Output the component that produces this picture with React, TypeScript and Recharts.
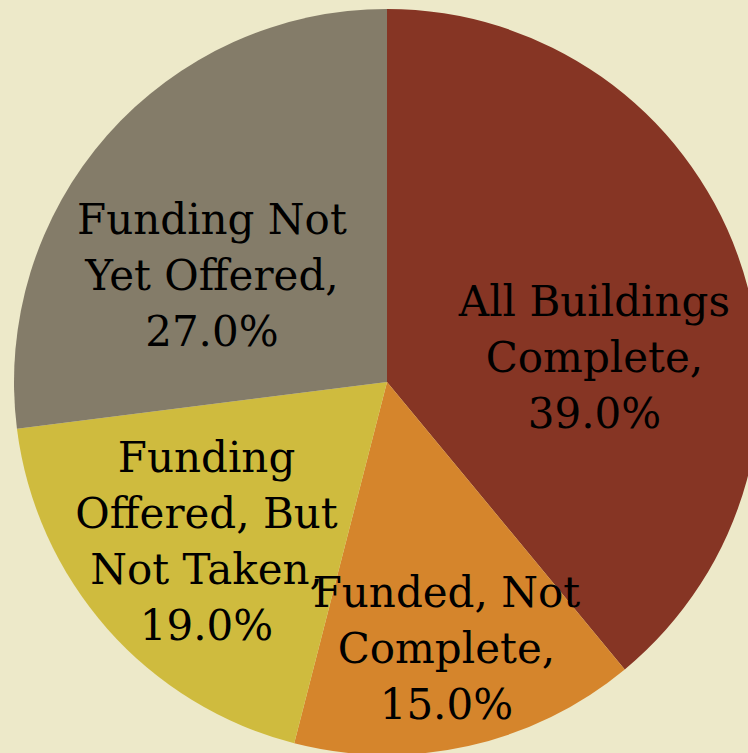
import React from 'react';
import { PieChart, Pie, Cell } from 'recharts';

// slice categories and shares (percent)
const categories = [
  'All Buildings Complete',
  'Funded, Not Complete',
  'Funding Offered, But Not Taken',
  'Funding Not Yet Offered',
];
const shares = [39.0, 15.0, 19.0, 27.0];
// how each label is wrapped onto lines
const labelLines = [
  ['All Buildings', 'Complete,', '39.0%'],
  ['Funded, Not', 'Complete,', '15.0%'],
  ['Funding', 'Offered, But', 'Not Taken,', '19.0%'],
  ['Funding Not', 'Yet Offered,', '27.0%'],
];

const colors = ['#863524', '#D5852C', '#CFBB3E', '#847C69'];
// label placement, relative to the slice mid angle
const labelPlace = [
  { r: 0.56, shift: -13 },
  { r: 0.73, shift: 0 },
  { r: 0.645, shift: 0 },
  { r: 0.55, shift: 10 },
];

const RAD = Math.PI / 180;
const LINE_H = 56;

const renderLabel = (props: any) => {
  const { cx, cy, midAngle, outerRadius, index } = props;
  const place = labelPlace[index];
  const a = (midAngle + place.shift) * RAD;
  const x = cx + outerRadius * place.r * Math.cos(a);
  const y = cy - outerRadius * place.r * Math.sin(a);
  const lines = labelLines[index];
  const top = y - ((lines.length - 1) * LINE_H) / 2;
  return (
    <text
      key={`lbl-${index}`}
      x={x}
      y={top}
      textAnchor="middle"
      dominantBaseline="central"
      fill="#000"
      style={{ fontFamily: '"DejaVu Serif", serif', fontSize: 42 }}
    >
      {lines.map((l, i) => (
        <tspan key={i} x={x} y={top + i * LINE_H}>
          {l}
        </tspan>
      ))}
    </text>
  );
};

export default function App() {
  const data = categories.map((name, i) => ({ name, value: shares[i] }));
  return (
    <div style={{ position: 'absolute', left: 0, top: 0, width: 748, height: 753, background: '#EDE9C9', overflow: 'hidden' }}>
      <PieChart width={748} height={753} margin={{ top: 0, right: 0, bottom: 0, left: 0 }}>
        <Pie
          data={data}
          dataKey="value"
          nameKey="name"
          cx={387}
          cy={382}
          outerRadius={373}
          startAngle={90}
          endAngle={-270}
          stroke="none"
          label={renderLabel}
          labelLine={false}
          isAnimationActive={false}
        >
          {data.map((d, i) => (
            <Cell key={`cell-${i}`} fill={colors[i]} />
          ))}
        </Pie>
      </PieChart>
    </div>
  );
}
